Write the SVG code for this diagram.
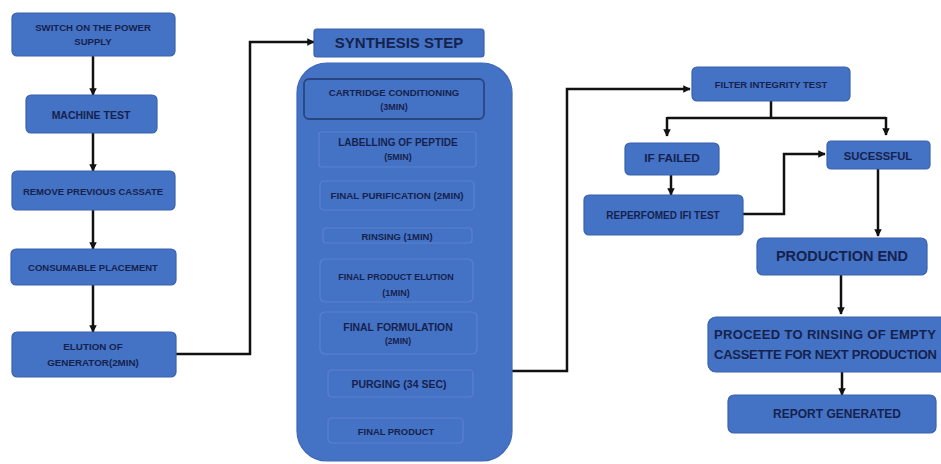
<svg xmlns="http://www.w3.org/2000/svg" width="941" height="464" viewBox="0 0 941 464">
<defs>
<style>
.box{fill:#4472c4;stroke:#3a62ad;stroke-width:1.2}
.inner{fill:#4472c4;stroke:#5b82cf;stroke-width:1.2}
.t{font-family:"Liberation Sans",Arial,sans-serif;font-weight:bold;fill:#16224e;text-anchor:middle}
.c{fill:none;stroke:#111;stroke-width:2.5}
.ci{fill:none;stroke:#111;stroke-width:1.2}
</style>
<marker id="ah" viewBox="0 0 10 10" refX="9" refY="5" markerWidth="3" markerHeight="3" orient="auto"><path d="M0,0 L10,5 L0,10 z" fill="#111"/></marker>
<marker id="ahs" viewBox="0 0 10 10" refX="9" refY="5" markerWidth="5" markerHeight="5" orient="auto"><path d="M0,0 L10,5 L0,10 z" fill="#111"/></marker>
</defs>
<rect width="941" height="464" fill="#fff"/>

<g id="connectors">
<path class="c" d="M93,56 V95" marker-end="url(#ah)"/>
<path class="c" d="M93,133 V171" marker-end="url(#ah)"/>
<path class="c" d="M93,210 V249" marker-end="url(#ah)"/>
<path class="c" d="M93,285 V332" marker-end="url(#ah)"/>
<path class="c" d="M176,354 H250 V42 H314" marker-end="url(#ah)"/>
<path class="ci" d="M399,119 V132"/>
<path class="ci" d="M399,167 V181" marker-end="url(#ahs)"/>
<path class="ci" d="M399,210 V228" marker-end="url(#ahs)"/>
<path class="ci" d="M397,243 V259" marker-end="url(#ahs)"/>
<path class="ci" d="M396,302 V312" marker-end="url(#ahs)"/>
<path class="ci" d="M399,354 V370" marker-end="url(#ahs)"/>
<path class="ci" d="M400,397 V418" marker-end="url(#ahs)"/>
<path class="c" d="M512,371 H567 V89 H690" marker-end="url(#ah)"/>
<path class="c" d="M771,101 V118"/>
<path class="c" d="M667,118 H886"/>
<path class="c" d="M667,117 V136" marker-end="url(#ah)"/>
<path class="c" d="M886,117 V135" marker-end="url(#ah)"/>
<path class="c" d="M671,175 V195" marker-end="url(#ah)"/>
<path class="c" d="M743,214 H784 V154 H825" marker-end="url(#ah)"/>
<path class="c" d="M878,169 V236" marker-end="url(#ah)"/>
<path class="c" d="M841,275 V314" marker-end="url(#ah)"/>
<path class="c" d="M842,372 V395" marker-end="url(#ah)"/>
</g>

<g id="n1"><rect class="box" x="12" y="13" width="163" height="43" rx="5"/>
<text class="t" x="93" y="31" font-size="9.6">SWITCH ON THE POWER</text>
<text class="t" x="93" y="45" font-size="9.6">SUPPLY</text></g>
<g id="n2"><rect class="box" x="26" y="95" width="131" height="38" rx="5"/>
<text class="t" x="91" y="119" font-size="10.5">MACHINE TEST</text></g>
<g id="n3"><rect class="box" x="12" y="171" width="163" height="39" rx="5"/>
<text class="t" x="93" y="195" font-size="9.5">REMOVE PREVIOUS CASSATE</text></g>
<g id="n4"><rect class="box" x="11" y="249" width="165" height="36" rx="5"/>
<text class="t" x="93" y="271" font-size="9.5">CONSUMABLE PLACEMENT</text></g>
<g id="n5"><rect class="box" x="12" y="332" width="164" height="45" rx="5"/>
<text class="t" x="93" y="350" font-size="9.8">ELUTION OF</text>
<text class="t" x="93" y="366" font-size="9.8">GENERATOR(2MIN)</text></g>

<g id="synthesis"><rect class="box" x="314" y="29" width="170" height="28" rx="3"/>
<text class="t" x="399" y="48" font-size="15">SYNTHESIS STEP</text></g>

<g id="container"><rect x="297" y="63" width="215" height="398" rx="30" fill="#4472c4" stroke="#3f68b8" stroke-width="1.2"/></g>

<g id="s1"><rect x="304" y="79" width="180" height="40" rx="5" fill="#4472c4" stroke="#2a4580" stroke-width="1.8"/>
<text class="t" x="394" y="96" font-size="9.6">CARTRIDGE CONDITIONING</text>
<text class="t" x="394" y="110" font-size="9">(3MIN)</text></g>
<g id="s2"><rect class="inner" x="319" y="132" width="157" height="35" rx="3"/>
<text class="t" x="398" y="146" font-size="10">LABELLING OF PEPTIDE</text>
<text class="t" x="398" y="160" font-size="9">(5MIN)</text></g>
<g id="s3"><rect class="inner" x="320" y="181" width="154" height="29" rx="4"/>
<text class="t" x="397" y="199" font-size="9.8">FINAL PURIFICATION (2MIN)</text></g>
<g id="s4"><rect class="inner" x="323" y="228" width="149" height="15" rx="3"/>
<text class="t" x="397" y="239.5" font-size="9.5">RINSING (1MIN)</text></g>
<g id="s5"><rect class="inner" x="320" y="259" width="153" height="43" rx="5"/>
<text class="t" x="396" y="280" font-size="9">FINAL PRODUCT ELUTION</text>
<text class="t" x="396" y="296" font-size="9">(1MIN)</text></g>
<g id="s6"><rect class="inner" x="320" y="312" width="157" height="42" rx="5"/>
<text class="t" x="398" y="331" font-size="10.4">FINAL FORMULATION</text>
<text class="t" x="398" y="344" font-size="8.5">(2MIN)</text></g>
<g id="s7"><rect class="inner" x="328" y="370" width="145" height="27" rx="4"/>
<text class="t" x="399" y="388" font-size="10.5">PURGING (34 SEC)</text></g>
<g id="s8"><rect class="inner" x="328" y="418" width="135" height="25" rx="4"/>
<text class="t" x="396" y="435" font-size="9.4">FINAL PRODUCT</text></g>

<g id="fit"><rect class="box" x="692" y="67" width="158" height="34" rx="5"/>
<text class="t" x="771" y="88" font-size="9.5">FILTER INTEGRITY TEST</text></g>
<g id="failed"><rect class="box" x="625" y="143" width="94" height="32" rx="5"/>
<text class="t" x="672" y="162" font-size="11.8">IF FAILED</text></g>
<g id="success"><rect class="box" x="827" y="141" width="103" height="28" rx="4"/>
<text class="t" x="878" y="160" font-size="11.3">SUCESSFUL</text></g>
<g id="reperf"><rect class="box" x="584" y="195" width="159" height="40" rx="5"/>
<text class="t" x="663" y="219" font-size="10">REPERFOMED IFI TEST</text></g>
<g id="prodend"><rect class="box" x="757" y="238" width="170" height="37" rx="6"/>
<text class="t" x="842" y="261" font-size="14.5">PRODUCTION END</text></g>
<g id="proceed"><rect class="box" x="708" y="317" width="240" height="55" rx="8"/>
<text class="t" x="714" y="339" font-size="13" style="text-anchor:start" textLength="222">PROCEED TO RINSING OF EMPTY</text>
<text class="t" x="714" y="359" font-size="13" style="text-anchor:start" textLength="223">CASSETTE FOR NEXT PRODUCTION</text></g>
<g id="report"><rect class="box" x="728" y="395" width="208" height="38" rx="6"/>
<text class="t" x="837" y="418" font-size="12">REPORT GENERATED</text></g>
</svg>
